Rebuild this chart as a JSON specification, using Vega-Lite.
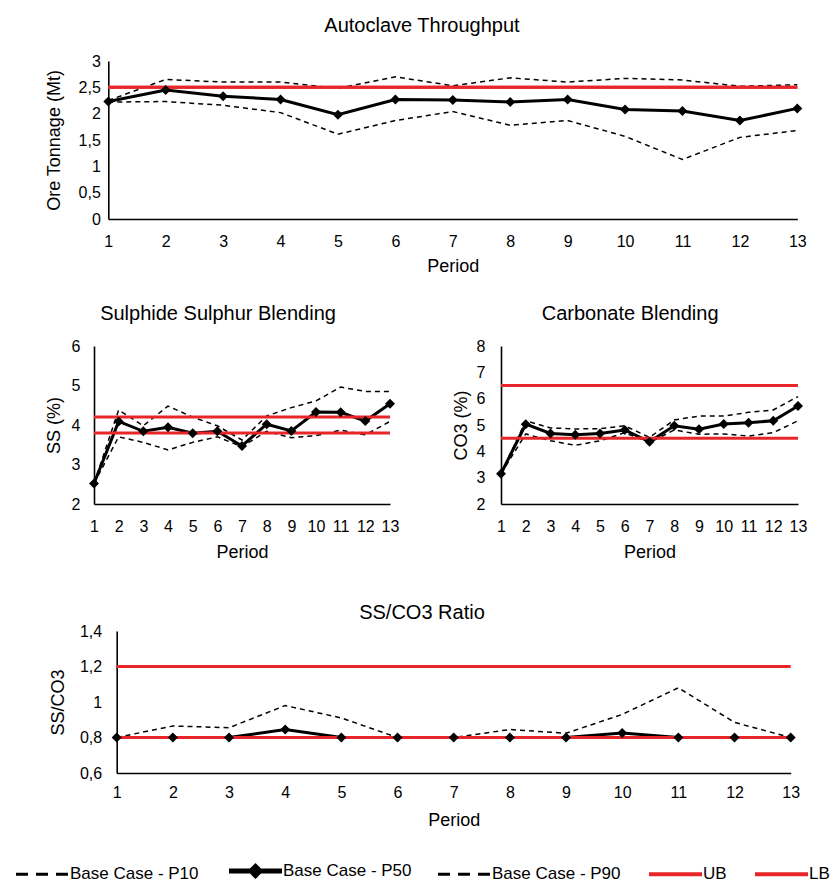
{
  "$schema": "https://vega.github.io/schema/vega-lite/v6.json",
  "padding": {"left": 34, "top": 15, "right": 0, "bottom": 0},
  "autosize": {"type": "pad"},
  "background": "white",
  "config": {
    "font": "Liberation Sans",
    "view": {"stroke": null},
    "axis": {"grid": false, "ticks": false, "domainColor": "#000000", "domainWidth": 1.6, "labelFont": "Liberation Sans", "labelFontSize": 16, "labelColor": "#000000", "titleFont": "Liberation Sans", "titleFontSize": 18, "titleFontWeight": "normal", "titleColor": "#000000", "labelFlush": false, "labelOverlap": false},
    "title": {"font": "Liberation Sans", "fontSize": 20, "fontWeight": "normal", "color": "#000000", "anchor": "middle"},
    "concat": {"spacing": 28}
  },
  "datasets": {
    "d": [
      {"chart": "AT", "period": 1, "Base Case - P10": 2.22, "Base Case - P50": 2.23, "Base Case - P90": 2.25, "UB": 2.5, "LB": 2.5},
      {"chart": "AT", "period": 2, "Base Case - P10": 2.23, "Base Case - P50": 2.45, "Base Case - P90": 2.65, "UB": 2.5, "LB": 2.5},
      {"chart": "AT", "period": 3, "Base Case - P10": 2.16, "Base Case - P50": 2.33, "Base Case - P90": 2.6, "UB": 2.5, "LB": 2.5},
      {"chart": "AT", "period": 4, "Base Case - P10": 2.02, "Base Case - P50": 2.27, "Base Case - P90": 2.6, "UB": 2.5, "LB": 2.5},
      {"chart": "AT", "period": 5, "Base Case - P10": 1.61, "Base Case - P50": 1.98, "Base Case - P90": 2.48, "UB": 2.5, "LB": 2.5},
      {"chart": "AT", "period": 6, "Base Case - P10": 1.87, "Base Case - P50": 2.27, "Base Case - P90": 2.7, "UB": 2.5, "LB": 2.5},
      {"chart": "AT", "period": 7, "Base Case - P10": 2.04, "Base Case - P50": 2.26, "Base Case - P90": 2.53, "UB": 2.5, "LB": 2.5},
      {"chart": "AT", "period": 8, "Base Case - P10": 1.78, "Base Case - P50": 2.22, "Base Case - P90": 2.68, "UB": 2.5, "LB": 2.5},
      {"chart": "AT", "period": 9, "Base Case - P10": 1.87, "Base Case - P50": 2.27, "Base Case - P90": 2.6, "UB": 2.5, "LB": 2.5},
      {"chart": "AT", "period": 10, "Base Case - P10": 1.57, "Base Case - P50": 2.08, "Base Case - P90": 2.67, "UB": 2.5, "LB": 2.5},
      {"chart": "AT", "period": 11, "Base Case - P10": 1.13, "Base Case - P50": 2.05, "Base Case - P90": 2.64, "UB": 2.5, "LB": 2.5},
      {"chart": "AT", "period": 12, "Base Case - P10": 1.55, "Base Case - P50": 1.87, "Base Case - P90": 2.52, "UB": 2.5, "LB": 2.5},
      {"chart": "AT", "period": 13, "Base Case - P10": 1.68, "Base Case - P50": 2.1, "Base Case - P90": 2.55, "UB": 2.5, "LB": 2.5},
      {"chart": "SS", "period": 1, "Base Case - P10": 2.52, "Base Case - P50": 2.52, "Base Case - P90": 2.52, "UB": 4.2, "LB": 3.8},
      {"chart": "SS", "period": 2, "Base Case - P10": 3.7, "Base Case - P50": 4.09, "Base Case - P90": 4.38, "UB": 4.2, "LB": 3.8},
      {"chart": "SS", "period": 3, "Base Case - P10": 3.56, "Base Case - P50": 3.84, "Base Case - P90": 3.98, "UB": 4.2, "LB": 3.8},
      {"chart": "SS", "period": 4, "Base Case - P10": 3.37, "Base Case - P50": 3.94, "Base Case - P90": 4.48, "UB": 4.2, "LB": 3.8},
      {"chart": "SS", "period": 5, "Base Case - P10": 3.56, "Base Case - P50": 3.79, "Base Case - P90": 4.2, "UB": 4.2, "LB": 3.8},
      {"chart": "SS", "period": 6, "Base Case - P10": 3.7, "Base Case - P50": 3.84, "Base Case - P90": 3.98, "UB": 4.2, "LB": 3.8},
      {"chart": "SS", "period": 7, "Base Case - P10": 3.45, "Base Case - P50": 3.47, "Base Case - P90": 3.62, "UB": 4.2, "LB": 3.8},
      {"chart": "SS", "period": 8, "Base Case - P10": 3.84, "Base Case - P50": 4.02, "Base Case - P90": 4.23, "UB": 4.2, "LB": 3.8},
      {"chart": "SS", "period": 9, "Base Case - P10": 3.68, "Base Case - P50": 3.85, "Base Case - P90": 4.44, "UB": 4.2, "LB": 3.8},
      {"chart": "SS", "period": 10, "Base Case - P10": 3.73, "Base Case - P50": 4.33, "Base Case - P90": 4.61, "UB": 4.2, "LB": 3.8},
      {"chart": "SS", "period": 11, "Base Case - P10": 3.87, "Base Case - P50": 4.32, "Base Case - P90": 4.96, "UB": 4.2, "LB": 3.8},
      {"chart": "SS", "period": 12, "Base Case - P10": 3.75, "Base Case - P50": 4.1, "Base Case - P90": 4.85, "UB": 4.2, "LB": 3.8},
      {"chart": "SS", "period": 13, "Base Case - P10": 4.09, "Base Case - P50": 4.54, "Base Case - P90": 4.85, "UB": 4.2, "LB": 3.8},
      {"chart": "CO3", "period": 1, "Base Case - P10": 3.15, "Base Case - P50": 3.15, "Base Case - P90": 3.15, "UB": 6.5, "LB": 4.5},
      {"chart": "CO3", "period": 2, "Base Case - P10": 4.66, "Base Case - P50": 5.03, "Base Case - P90": 5.16, "UB": 6.5, "LB": 4.5},
      {"chart": "CO3", "period": 3, "Base Case - P10": 4.4, "Base Case - P50": 4.68, "Base Case - P90": 4.89, "UB": 6.5, "LB": 4.5},
      {"chart": "CO3", "period": 4, "Base Case - P10": 4.23, "Base Case - P50": 4.63, "Base Case - P90": 4.85, "UB": 6.5, "LB": 4.5},
      {"chart": "CO3", "period": 5, "Base Case - P10": 4.4, "Base Case - P50": 4.68, "Base Case - P90": 4.86, "UB": 6.5, "LB": 4.5},
      {"chart": "CO3", "period": 6, "Base Case - P10": 4.71, "Base Case - P50": 4.81, "Base Case - P90": 4.97, "UB": 6.5, "LB": 4.5},
      {"chart": "CO3", "period": 7, "Base Case - P10": 4.33, "Base Case - P50": 4.36, "Base Case - P90": 4.53, "UB": 6.5, "LB": 4.5},
      {"chart": "CO3", "period": 8, "Base Case - P10": 4.81, "Base Case - P50": 4.97, "Base Case - P90": 5.19, "UB": 6.5, "LB": 4.5},
      {"chart": "CO3", "period": 9, "Base Case - P10": 4.65, "Base Case - P50": 4.84, "Base Case - P90": 5.34, "UB": 6.5, "LB": 4.5},
      {"chart": "CO3", "period": 10, "Base Case - P10": 4.66, "Base Case - P50": 5.04, "Base Case - P90": 5.34, "UB": 6.5, "LB": 4.5},
      {"chart": "CO3", "period": 11, "Base Case - P10": 4.58, "Base Case - P50": 5.09, "Base Case - P90": 5.48, "UB": 6.5, "LB": 4.5},
      {"chart": "CO3", "period": 12, "Base Case - P10": 4.71, "Base Case - P50": 5.16, "Base Case - P90": 5.57, "UB": 6.5, "LB": 4.5},
      {"chart": "CO3", "period": 13, "Base Case - P10": 5.16, "Base Case - P50": 5.72, "Base Case - P90": 6.08, "UB": 6.5, "LB": 4.5},
      {"chart": "R", "period": 1, "Base Case - P10": 0.8, "Base Case - P50": 0.8, "Base Case - P90": 0.8, "UB": 1.2, "LB": 0.8},
      {"chart": "R", "period": 2, "Base Case - P10": 0.8, "Base Case - P50": 0.8, "Base Case - P90": 0.865, "UB": 1.2, "LB": 0.8},
      {"chart": "R", "period": 3, "Base Case - P10": 0.8, "Base Case - P50": 0.8, "Base Case - P90": 0.855, "UB": 1.2, "LB": 0.8},
      {"chart": "R", "period": 4, "Base Case - P10": 0.8, "Base Case - P50": 0.845, "Base Case - P90": 0.98, "UB": 1.2, "LB": 0.8},
      {"chart": "R", "period": 5, "Base Case - P10": 0.8, "Base Case - P50": 0.8, "Base Case - P90": 0.91, "UB": 1.2, "LB": 0.8},
      {"chart": "R", "period": 6, "Base Case - P10": 0.8, "Base Case - P50": 0.8, "Base Case - P90": 0.8, "UB": 1.2, "LB": 0.8},
      {"chart": "R", "period": 7, "Base Case - P10": 0.8, "Base Case - P50": 0.8, "Base Case - P90": 0.8, "UB": 1.2, "LB": 0.8},
      {"chart": "R", "period": 8, "Base Case - P10": 0.8, "Base Case - P50": 0.8, "Base Case - P90": 0.845, "UB": 1.2, "LB": 0.8},
      {"chart": "R", "period": 9, "Base Case - P10": 0.8, "Base Case - P50": 0.8, "Base Case - P90": 0.824, "UB": 1.2, "LB": 0.8},
      {"chart": "R", "period": 10, "Base Case - P10": 0.8, "Base Case - P50": 0.825, "Base Case - P90": 0.93, "UB": 1.2, "LB": 0.8},
      {"chart": "R", "period": 11, "Base Case - P10": 0.8, "Base Case - P50": 0.8, "Base Case - P90": 1.08, "UB": 1.2, "LB": 0.8},
      {"chart": "R", "period": 12, "Base Case - P10": 0.8, "Base Case - P50": 0.8, "Base Case - P90": 0.885, "UB": 1.2, "LB": 0.8},
      {"chart": "R", "period": 13, "Base Case - P10": 0.8, "Base Case - P50": 0.8, "Base Case - P90": 0.8, "UB": 1.2, "LB": 0.8}
    ]
  },
  "resolve": {"scale": {"color": "shared"}},
  "vconcat": [
    {
      "width": 703.3,
      "height": 158,
      "title": {"text": "Autoclave Throughput", "offset": 17.5, "dx": -23.7},
      "data": {"name": "d"},
      "transform": [
        {"filter": "datum.chart === 'AT'"},
        {"fold": ["Base Case - P10", "Base Case - P50", "Base Case - P90", "UB", "LB"], "as": ["series", "value"]}
      ],
      "encoding": {
        "x": {"field": "period", "type": "quantitative", "scale": {"domain": [1, 13], "range": [14.3, 703.3], "nice": false, "zero": false}, "axis": {"values": [1, 2, 3, 4, 5, 6, 7, 8, 9, 10, 11, 12, 13], "format": "d", "title": "Period", "labelPadding": 14, "titlePadding": 8}},
        "y": {"field": "value", "type": "quantitative", "scale": {"domain": [0, 3], "nice": false, "zero": false}, "axis": {"values": [0, 0.5, 1, 1.5, 2, 2.5, 3], "labelExpr": "replace(format(datum.value, '.1~f'), '.', ',')", "title": "Ore Tonnage (Mt)", "offset": -14.3, "labelPadding": 8, "minExtent": 45, "maxExtent": 45, "titlePadding": 0}}
      },
      "layer": [
        {
          "transform": [{"filter": {"field": "series", "oneOf": ["Base Case - P10", "Base Case - P90"]}}],
          "mark": {"type": "line", "strokeDash": [5, 4], "strokeWidth": 1.5},
          "encoding": {
            "color": {"field": "series", "type": "nominal", "scale": {"domain": ["Base Case - P10", "Base Case - P50", "Base Case - P90", "UB", "LB"], "range": ["#000000", "#000000", "#000000", "#e8262a", "#e8262a"]}, "legend": {"title": null, "orient": "none", "legendX": -60, "legendY": 801, "direction": "horizontal", "symbolType": "stroke", "symbolSize": 2809, "labelFontSize": 17, "labelOffset": 19, "columnPadding": 20, "labelColor": "#000000", "labelFont": "Liberation Sans", "encode": {"symbols": {"update": {"shape": {"signal": "datum.value === 'Base Case - P50' ? 'M-1,0H1M-0.17,0L0,-0.17L0.17,0L0,0.17Z' : 'stroke'"}, "fill": {"signal": "datum.value === 'Base Case - P50' ? '#000000' : 'transparent'"}, "strokeDash": {"signal": "(datum.value === 'Base Case - P10' || datum.value === 'Base Case - P90') ? [12, 8] : [1, 0]"}, "strokeWidth": {"signal": "datum.value === 'Base Case - P50' ? 5 : ((datum.value === 'Base Case - P10' || datum.value === 'Base Case - P90') ? 3 : 4)"}}}}}}
          }
        },
        {
          "transform": [{"filter": {"field": "series", "oneOf": ["Base Case - P50"]}}],
          "mark": {"type": "line", "strokeWidth": 3},
          "encoding": {"color": {"field": "series", "type": "nominal"}}
        },
        {
          "transform": [{"filter": {"field": "series", "oneOf": ["UB", "LB"]}}],
          "mark": {"type": "line", "strokeWidth": 3},
          "encoding": {"color": {"field": "series", "type": "nominal"}}
        },
        {
          "transform": [{"filter": {"field": "series", "oneOf": ["Base Case - P50"]}}],
          "mark": {"type": "point", "shape": "diamond", "filled": true, "size": 100, "color": "#000000", "opacity": 1}
        }
      ]
    },
    {
      "hconcat": [
        {
          "width": 296,
          "height": 158,
          "title": {"text": "Sulphide Sulphur Blending", "offset": 14.5, "dx": -24},
          "data": {"name": "d"},
          "transform": [
            {"filter": "datum.chart === 'SS'"},
            {"fold": ["Base Case - P10", "Base Case - P50", "Base Case - P90", "UB", "LB"], "as": ["series", "value"]}
          ],
          "encoding": {
            "x": {"field": "period", "type": "quantitative", "scale": {"domain": [1, 13], "nice": false, "zero": false}, "axis": {"values": [1, 2, 3, 4, 5, 6, 7, 8, 9, 10, 11, 12, 13], "format": "d", "title": ["Period", " "], "titleLineHeight": 14, "labelPadding": 14, "titlePadding": 9}},
            "y": {"field": "value", "type": "quantitative", "scale": {"domain": [2, 6], "nice": false, "zero": false}, "axis": {"values": [2, 3, 4, 5, 6], "format": "d", "title": "SS (%)", "labelPadding": 14, "minExtent": 31, "maxExtent": 31, "titlePadding": 0}}
          },
          "layer": [
            {
              "transform": [{"filter": {"field": "series", "oneOf": ["Base Case - P10", "Base Case - P90"]}}],
              "mark": {"type": "line", "strokeDash": [5, 4], "strokeWidth": 1.5},
              "encoding": {"color": {"field": "series", "type": "nominal"}}
            },
            {
              "transform": [{"filter": {"field": "series", "oneOf": ["Base Case - P50"]}}],
              "mark": {"type": "line", "strokeWidth": 3},
              "encoding": {"color": {"field": "series", "type": "nominal"}}
            },
            {
              "transform": [{"filter": {"field": "series", "oneOf": ["UB", "LB"]}}],
              "mark": {"type": "line", "strokeWidth": 3},
              "encoding": {"color": {"field": "series", "type": "nominal"}}
            },
            {
              "transform": [{"filter": {"field": "series", "oneOf": ["Base Case - P50"]}}],
              "mark": {"type": "point", "shape": "diamond", "filled": true, "size": 100, "color": "#000000", "opacity": 1}
            }
          ]
        },
        {
          "width": 297,
          "height": 158,
          "title": {"text": "Carbonate Blending", "offset": 14.5, "dx": -19.4},
          "data": {"name": "d"},
          "transform": [
            {"filter": "datum.chart === 'CO3'"},
            {"fold": ["Base Case - P10", "Base Case - P50", "Base Case - P90", "UB", "LB"], "as": ["series", "value"]}
          ],
          "encoding": {
            "x": {"field": "period", "type": "quantitative", "scale": {"domain": [1, 13], "nice": false, "zero": false}, "axis": {"values": [1, 2, 3, 4, 5, 6, 7, 8, 9, 10, 11, 12, 13], "format": "d", "title": ["Period", " "], "titleLineHeight": 14, "labelPadding": 14, "titlePadding": 9}},
            "y": {"field": "value", "type": "quantitative", "scale": {"domain": [2, 8], "nice": false, "zero": false}, "axis": {"values": [2, 3, 4, 5, 6, 7, 8], "format": "d", "title": "CO3 (%)", "labelPadding": 16, "minExtent": 31, "maxExtent": 31, "titlePadding": 0}}
          },
          "layer": [
            {
              "transform": [{"filter": {"field": "series", "oneOf": ["Base Case - P10", "Base Case - P90"]}}],
              "mark": {"type": "line", "strokeDash": [5, 4], "strokeWidth": 1.5},
              "encoding": {"color": {"field": "series", "type": "nominal"}}
            },
            {
              "transform": [{"filter": {"field": "series", "oneOf": ["Base Case - P50"]}}],
              "mark": {"type": "line", "strokeWidth": 3},
              "encoding": {"color": {"field": "series", "type": "nominal"}}
            },
            {
              "transform": [{"filter": {"field": "series", "oneOf": ["UB", "LB"]}}],
              "mark": {"type": "line", "strokeWidth": 3},
              "encoding": {"color": {"field": "series", "type": "nominal"}}
            },
            {
              "transform": [{"filter": {"field": "series", "oneOf": ["Base Case - P50"]}}],
              "mark": {"type": "point", "shape": "diamond", "filled": true, "size": 100, "color": "#000000", "opacity": 1}
            }
          ]
        }
      ],
      "spacing": 53
    },
    {
      "width": 696.7,
      "height": 142,
      "title": {"text": "SS/CO3 Ratio", "offset": 0, "dx": -20.4},
      "data": {"name": "d"},
      "transform": [
        {"filter": "datum.chart === 'R'"},
        {"fold": ["Base Case - P10", "Base Case - P50", "Base Case - P90", "UB", "LB"], "as": ["series", "value"]}
      ],
      "encoding": {
        "x": {"field": "period", "type": "quantitative", "scale": {"domain": [1, 13], "range": [22.7, 696.7], "nice": false, "zero": false}, "axis": {"values": [1, 2, 3, 4, 5, 6, 7, 8, 9, 10, 11, 12, 13], "format": "d", "title": "Period", "labelPadding": 11.5, "titlePadding": 10.5}},
        "y": {"field": "value", "type": "quantitative", "scale": {"domain": [0.6, 1.4], "nice": false, "zero": false}, "axis": {"values": [0.6, 0.8, 1, 1.2, 1.4], "labelExpr": "replace(format(datum.value, '.1~f'), '.', ',')", "title": "SS/CO3", "offset": -22.7, "labelPadding": 15, "minExtent": 49, "maxExtent": 49, "titlePadding": 0}}
      },
      "layer": [
        {
          "transform": [{"filter": {"field": "series", "oneOf": ["Base Case - P10", "Base Case - P90"]}}],
          "mark": {"type": "line", "strokeDash": [5, 4], "strokeWidth": 1.5},
          "encoding": {"color": {"field": "series", "type": "nominal"}}
        },
        {
          "transform": [{"filter": {"field": "series", "oneOf": ["Base Case - P50"]}}],
          "mark": {"type": "line", "strokeWidth": 3},
          "encoding": {"color": {"field": "series", "type": "nominal"}}
        },
        {
          "transform": [{"filter": {"field": "series", "oneOf": ["UB", "LB"]}}],
          "mark": {"type": "line", "strokeWidth": 3},
          "encoding": {"color": {"field": "series", "type": "nominal"}}
        },
        {
          "transform": [{"filter": {"field": "series", "oneOf": ["Base Case - P50"]}}],
          "mark": {"type": "point", "shape": "diamond", "filled": true, "size": 100, "color": "#000000", "opacity": 1}
        }
      ]
    }
  ]
}
